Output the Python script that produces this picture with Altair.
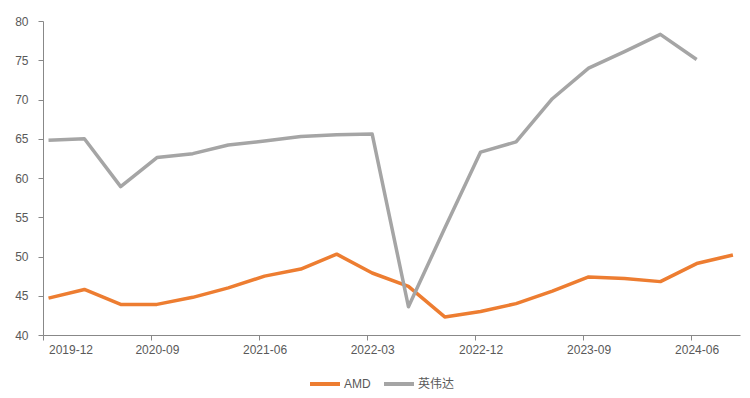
import altair as alt
import pandas as pd

quarters = ["2019-12", "2020-03", "2020-06", "2020-09", "2020-12", "2021-03", "2021-06",
            "2021-09", "2021-12", "2022-03", "2022-06", "2022-09", "2022-12", "2023-03",
            "2023-06", "2023-09", "2023-12", "2024-03", "2024-06", "2024-09"]
amd = [44.7, 45.8, 43.9, 43.9, 44.8, 46.0, 47.5, 48.4, 50.3, 47.9, 46.2, 42.3, 43.0, 44.0,
       45.6, 47.4, 47.2, 46.8, 49.1, 50.2]
nvidia = [64.8, 65.0, 58.9, 62.6, 63.1, 64.2, 64.7, 65.3, 65.5, 65.6, 43.6, 53.6, 63.3, 64.6,
          70.1, 74.0, 76.1, 78.3, 75.1, None]
series_names = ["AMD", "英伟达"]
colors = ["#ED7D31", "#A5A5A5"]
tick_labels = ["2019-12", "2020-09", "2021-06", "2022-03", "2022-12", "2023-09", "2024-06"]

rows = []
for name, vals in zip(series_names, [amd, nvidia]):
    for q, v in zip(quarters, vals):
        if v is not None:
            rows.append({"date": q + "-15", "series": name, "value": v})
df = pd.DataFrame(rows)

def dt(s, day=1):
    y, m = s.split("-")
    return alt.DateTime(year=int(y), month=int(m), date=day, utc=True)

tick_vals = [dt(t) for t in tick_labels]

chart = alt.Chart(df).mark_line(strokeWidth=3.5, strokeJoin="round").encode(
    x=alt.X("date:T",
            scale=alt.Scale(type="utc", domain=[dt("2019-12", 1), dt("2024-10", 3)]),
            axis=alt.Axis(title=None, values=tick_vals,
                          labelExpr="utcFormat(datum.value, '%Y-%m')",
                          grid=False, domainColor="#888888", tickColor="#888888",
                          tickSize=5, labelPadding=4, labelOffset=5.5,
                          labelColor="#595959", labelFontSize=12,
                          labelFont="Liberation Sans", labelOverlap=False)),
    y=alt.Y("value:Q",
            scale=alt.Scale(domain=[40, 80], nice=False, zero=False),
            axis=alt.Axis(title=None, values=list(range(40, 81, 5)), grid=False,
                          domainColor="#888888", tickColor="#888888", tickSize=5,
                          labelPadding=10, labelColor="#595959", labelFontSize=12,
                          labelFont="Liberation Sans")),
    color=alt.Color("series:N",
                    scale=alt.Scale(domain=series_names, range=colors),
                    legend=alt.Legend(title=None, orient="none", legendX=265, legendY=346,
                                      direction="horizontal", symbolType="stroke",
                                      symbolSize=900, symbolStrokeWidth=4,
                                      labelFontSize=12, labelColor="#595959",
                                      labelFont="Liberation Sans, Noto Sans CJK SC",
                                      columnPadding=5, labelOffset=2, padding=0)),
).properties(
    width=697, height=314,
    autosize=alt.AutoSizeParams(type="none"),
    padding={"left": 35, "top": 13, "right": 2, "bottom": 60},
).configure_view(stroke=None)

chart.save("out.html", embed_options={"renderer": "svg", "actions": False})
